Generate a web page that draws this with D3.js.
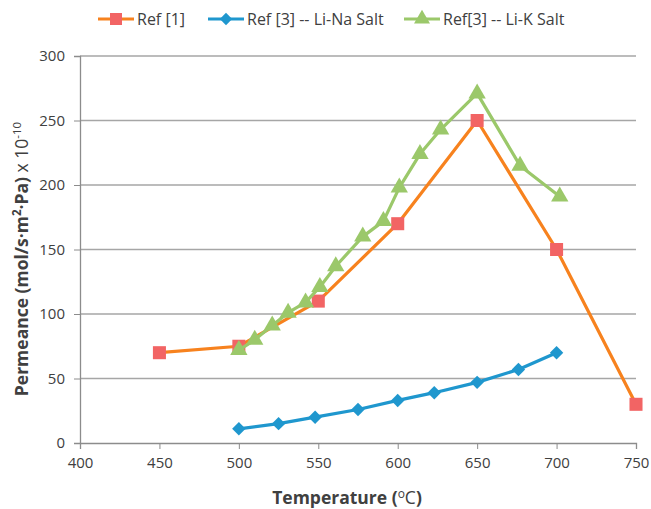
<!DOCTYPE html>
<html>
<head>
<meta charset="utf-8">
<script src="https://cdn.jsdelivr.net/npm/d3@7"></script>
<style>
  body { margin: 0; background: #fff; }
  text { font-family: "Open Sans", "Liberation Sans", sans-serif; fill: #404040; }
  .tick line { stroke: #8c8c8c; }
  .domain { stroke: #8c8c8c; }
</style>
</head>
<body>
<div id="chart"></div>
<script>
// data
var ref1Temp = [450, 500, 550, 600, 650, 700, 750];
var ref1Perm = [70, 75, 110, 170, 250, 150, 30];

var naTemp = [500, 525, 548, 575, 600, 623, 650, 676, 700];
var naPerm = [11, 15, 20, 26, 33, 39, 47, 57, 70];

var kTemp = [500, 510, 521, 531, 542, 551, 561, 578, 591, 601, 614, 627, 650, 677, 702];
var kPerm = [72, 80, 91, 101, 109, 121, 137, 160, 172, 198, 224, 243, 271, 215, 191];

var xTicks = [400, 450, 500, 550, 600, 650, 700, 750];
var yTicks = [0, 50, 100, 150, 200, 250, 300];

var W = 651, H = 509;
var m = {left: 80, right: 15, top: 56, bottom: 66};

var svg = d3.select("#chart").append("svg").attr("width", W).attr("height", H);

var x = d3.scaleLinear().domain([400, 750]).range([m.left, W - m.right]);
var y = d3.scaleLinear().domain([0, 300]).range([H - m.bottom, m.top]);

// gridlines
svg.append("g").selectAll("line").data(yTicks.slice(1)).enter().append("line")
  .attr("x1", m.left).attr("x2", W - m.right)
  .attr("y1", function(d) { return y(d); }).attr("y2", function(d) { return y(d); })
  .attr("stroke", "#a6a6a6").attr("stroke-width", 1.3);

var xAxis = svg.append("g").attr("transform", "translate(0," + y(0) + ")")
  .call(d3.axisBottom(x).tickValues(xTicks).tickSize(6).tickPadding(8));
var yAxis = svg.append("g").attr("transform", "translate(" + m.left + ",0)")
  .call(d3.axisLeft(y).tickValues(yTicks).tickSize(6).tickPadding(9));
[xAxis, yAxis].forEach(function(a) {
  a.selectAll("text").style("font-size", "15px").attr("fill", "#404040");
  a.select(".domain").attr("stroke-width", 1.3);
});

// square-ish diamond like the spreadsheet marker
var diamond = {
  draw: function(ctx, size) {
    var r = Math.sqrt(size / 2);
    ctx.moveTo(0, -r); ctx.lineTo(r, 0); ctx.lineTo(0, r); ctx.lineTo(-r, 0); ctx.closePath();
  }
};

var series = [
  {t: ref1Temp, v: ref1Perm, line: "#f7821e", mark: "#f26464", sym: d3.symbolSquare, size: 170, name: "Ref [1]"},
  {t: naTemp, v: naPerm, line: "#1f97ce", mark: "#1f97ce", sym: diamond, size: 90, name: "Ref [3] -- Li-Na Salt"},
  {t: kTemp, v: kPerm, line: "#9bc86a", mark: "#9bc86a", sym: d3.symbolTriangle, size: 130, name: "Ref[3] -- Li-K Salt"}
];

var line = d3.line().x(function(d) { return x(d[0]); }).y(function(d) { return y(d[1]); });

series.forEach(function(s) {
  var pts = d3.zip(s.t, s.v);
  svg.append("path").datum(pts).attr("d", line)
    .attr("fill", "none").attr("stroke", s.line).attr("stroke-width", 3.2)
    .attr("stroke-linejoin", "round");
  svg.append("g").selectAll("path").data(pts).enter().append("path")
    .attr("d", d3.symbol().type(s.sym).size(s.size))
    .attr("transform", function(d) { return "translate(" + x(d[0]) + "," + y(d[1]) + ")"; })
    .attr("fill", s.mark);
});

// legend
var legX = [98, 208, 404];
series.forEach(function(s, i) {
  var g = svg.append("g").attr("transform", "translate(" + legX[i] + ",19)");
  g.append("line").attr("x1", 0).attr("x2", 36).attr("stroke", s.line).attr("stroke-width", 3.2);
  g.append("path").attr("d", d3.symbol().type(s.sym).size(s.size * 0.85))
    .attr("transform", "translate(18,0)").attr("fill", s.mark);
  g.append("text").attr("x", 39).attr("y", 6).style("font-size", "16px").text(s.name);
});

// axis titles
svg.append("text")
  .attr("transform", "translate(28,259) rotate(-90)")
  .attr("text-anchor", "middle").style("font-size", "17.5px").style("font-weight", "bold")
  .html('Permeance (mol/s·m<tspan dy="-7" font-size="11.5px">2</tspan><tspan dy="7">·Pa) </tspan><tspan font-weight="normal">x 10</tspan><tspan dy="-7" font-size="11.5px" font-weight="normal">-10</tspan>');

svg.append("text")
  .attr("x", 347).attr("y", 504)
  .attr("text-anchor", "middle").style("font-size", "17.5px").style("font-weight", "bold")
  .html('Temperature (<tspan dy="-6" font-size="12px" font-weight="normal">o</tspan><tspan dy="6" font-weight="normal">C</tspan>)');
</script>
</body>
</html>
